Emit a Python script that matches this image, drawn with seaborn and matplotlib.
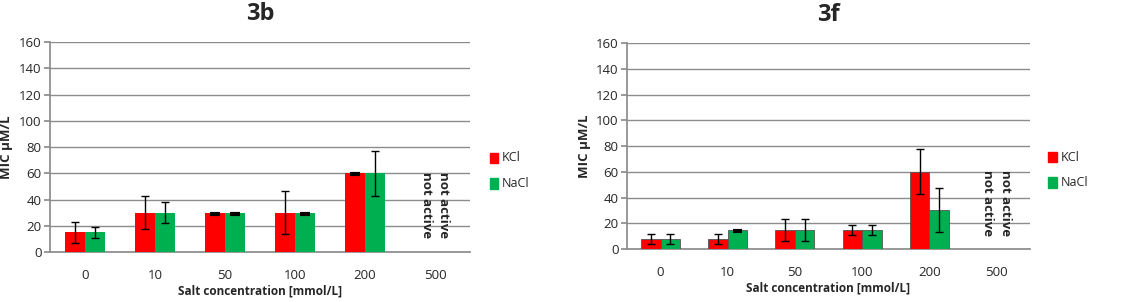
import numpy as np
import pandas as pd
import matplotlib.pyplot as plt
import seaborn as sns

# data
conc = ['0', '10', '50', '100', '200', '500']
salts = ['KCl', 'NaCl']

kcl_3b = [15, 30, 30, 30, 60, np.nan]
nacl_3b = [15, 30, 30, 30, 60, np.nan]
kcl_3b_err = [8, 12.5, 0, 16.5, 0, np.nan]
nacl_3b_err = [4, 8, 0, 0, 17, np.nan]

kcl_3f = [7.5, 7.5, 15, 15, 60, np.nan]
nacl_3f = [7.5, 15, 15, 15, 30, np.nan]
kcl_3f_err = [4, 4, 8.5, 4, 17.5, np.nan]
nacl_3f_err = [4, 0, 8.5, 4, 17, np.nan]

colors = {'KCl': '#FF0000', 'NaCl': '#00B050'}

sns.set_theme(style='white')
plt.rcParams['font.family'] = ['Open Sans', 'DejaVu Sans']

fig = plt.figure(figsize=(11.31, 3.02), dpi=100)
ax1 = fig.add_axes([0.0442, 0.1656, 0.3714, 0.695])
ax2 = fig.add_axes([0.5544, 0.1755, 0.3563, 0.682])


def draw_panel(ax, kcl, nacl, kcl_err, nacl_err, title, edge):
    df = pd.DataFrame({
        'conc': conc * 2,
        'salt': ['KCl'] * len(conc) + ['NaCl'] * len(conc),
        'mic': kcl + nacl,
        'err': kcl_err + nacl_err,
    })
    sns.barplot(data=df, x='conc', y='mic', hue='salt', order=conc,
                hue_order=salts, palette=colors, width=0.58, errorbar=None,
                saturation=1, edgecolor=edge,
                linewidth=0.6 if edge != 'none' else 0,
                legend=False, ax=ax, zorder=3)

    # error bars at bar centers
    for i, salt in enumerate(salts):
        sub = df[df['salt'] == salt].reset_index(drop=True)
        bars = ax.containers[i]
        for j, bar in enumerate(bars):
            v = sub.loc[j, 'mic']
            e = sub.loc[j, 'err']
            if np.isnan(v):
                continue
            xc = bar.get_x() + bar.get_width() / 2
            if e == 0:
                ax.plot([xc - 0.07, xc + 0.07], [v - 0.8, v - 0.8], color='black',
                        lw=3, solid_capstyle='butt', zorder=5)
            else:
                ax.errorbar(xc, v, yerr=e, fmt='none', ecolor='black',
                            elinewidth=1, capsize=3, capthick=1, zorder=5)

    ax.text(5, 61, 'not active\nnot active', rotation=-90, ha='center', va='top',
            fontsize=9.5, fontweight='bold', linespacing=1.45)

    ax.set_ylim(0, 160)
    ax.set_xlim(-0.5, 5.5)
    ax.set_yticks(range(0, 161, 20))
    ax.yaxis.grid(True, color='#8c8c8c', lw=1)
    ax.set_axisbelow(True)
    for s in ['top', 'right']:
        ax.spines[s].set_visible(False)
    ax.spines['left'].set_color('#8c8c8c')
    ax.spines['bottom'].set_color('#8c8c8c')
    ax.tick_params(axis='y', left=True, length=4, color='#8c8c8c', labelsize=9.5, pad=2)
    ax.tick_params(axis='x', bottom=False, labelsize=9.5, pad=6)
    ax.set_xlabel('Salt concentration [mmol/L]', fontsize=8.5, fontweight='bold', labelpad=2)
    ax.set_ylabel('MIC µM/L', fontsize=9.5, fontweight='bold', labelpad=4)
    ax.set_title(title, fontsize=17, fontweight='bold', pad=16)


draw_panel(ax1, kcl_3b, nacl_3b, kcl_3b_err, nacl_3b_err, '3b', 'none')
draw_panel(ax2, kcl_3f, nacl_3f, kcl_3f_err, nacl_3f_err, '3f', '#555555')

# legends to the right of each panel
for x0, ys in [(0.433, (0.477, 0.391)), (0.927, (0.48, 0.397))]:
    for salt, y in zip(salts, ys):
        fig.patches.append(plt.Rectangle((x0, y - 0.018), 0.0075, 0.036,
                                         transform=fig.transFigure,
                                         color=colors[salt]))
        fig.text(x0 + 0.011, y, salt, fontsize=9, va='center')

fig.savefig('out.png', dpi=100)
